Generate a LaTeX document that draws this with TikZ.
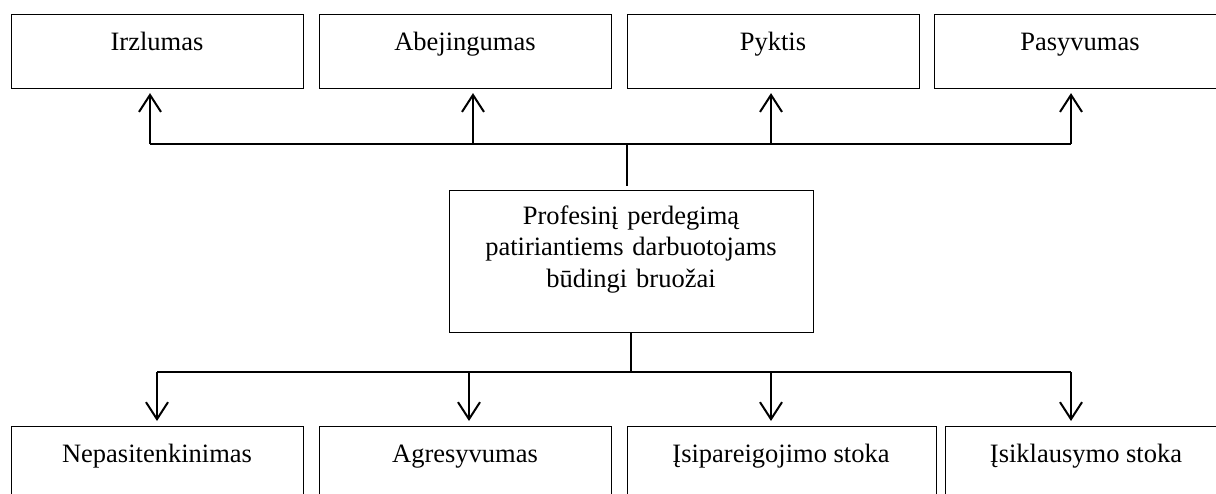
\documentclass[tikz,border=0pt]{standalone}
\usepackage{fontspec}
\setmainfont{Liberation Serif}
\usetikzlibrary{arrows.meta}
\begin{document}
\begin{tikzpicture}[x=1pt,y=-1pt,
  box/.style={draw=black,line width=1.1pt,rectangle,inner sep=0pt,anchor=north west,minimum height=74pt},
  lbl/.style={font=\fontsize{26.5}{31.5}\selectfont,anchor=base,inner sep=0pt},
  conn/.style={line width=2pt,black},
  arr/.style={conn,-{Straight Barb[length=17pt,width=22pt,line width=2pt]}}]
\useasboundingbox (0,0) rectangle (1216,493);
\clip (0,0) rectangle (1216,493);
% top boxes
\node[box,minimum width=292pt] (t1) at (11,14) {};
\node[box,minimum width=292pt] (t2) at (319,14) {};
\node[box,minimum width=292pt] (t3) at (627,14) {};
\node[box,minimum width=292pt] (t4) at (934,14) {};
\node[lbl] (t1l) at (157,50) {Irzlumas};
\node[lbl] (t2l) at (465,50) {Abejingumas};
\node[lbl] (t3l) at (773,50) {Pyktis};
\node[lbl] (t4l) at (1080,50) {Pasyvumas};
% centre box
\node[box,minimum width=364pt,minimum height=142pt] (c) at (449,190) {};
\node[lbl,text width=360pt,align=center] (cl) at (631,224)
  {Profesinį perdegimą\\patiriantiems darbuotojams\\būdingi bruožai};
% bottom boxes
\node[box,minimum width=292pt,minimum height=110pt] (b1) at (11,426) {};
\node[box,minimum width=292pt,minimum height=110pt] (b2) at (319,426) {};
\node[box,minimum width=309pt,minimum height=110pt] (b3) at (627,426) {};
\node[box,minimum width=282pt,minimum height=110pt] (b4) at (945,426) {};
\node[lbl] (b1l) at (157,462) {Nepasitenkinimas};
\node[lbl] (b2l) at (465,462) {Agresyvumas};
\node[lbl] (b3l) at (781,462) {Įsipareigojimo stoka};
\node[lbl] (b4l) at (1086,462) {Įsiklausymo stoka};
% top connectors
\coordinate (ht) at (627,144);
\coordinate (j1) at (150,144);
\coordinate (j2) at (473,144);
\coordinate (j3) at (771,144);
\coordinate (j4) at (1071,144);
\draw[conn] (j1) -- (j4);
\draw[conn,shorten >=4pt] (ht) -- (ht |- c.north);
\draw[arr,shorten >=4pt] (j1) -- (j1 |- t1.south);
\draw[arr,shorten >=4pt] (j2) -- (j2 |- t2.south);
\draw[arr,shorten >=4pt] (j3) -- (j3 |- t3.south);
\draw[arr,shorten >=4pt] (j4) -- (j4 |- t4.south);
% bottom connectors
\coordinate (hb) at (631,372);
\coordinate (k1) at (157,372);
\coordinate (k2) at (469,372);
\coordinate (k3) at (771,372);
\coordinate (k4) at (1071,372);
\draw[conn] (hb |- c.south) -- (hb);
\draw[conn] (k1) -- (k4);
\draw[arr,shorten >=5pt] (k1) -- (k1 |- b1.north);
\draw[arr,shorten >=5pt] (k2) -- (k2 |- b2.north);
\draw[arr,shorten >=5pt] (k3) -- (k3 |- b3.north);
\draw[arr,shorten >=5pt] (k4) -- (k4 |- b4.north);
\end{tikzpicture}
\end{document}
